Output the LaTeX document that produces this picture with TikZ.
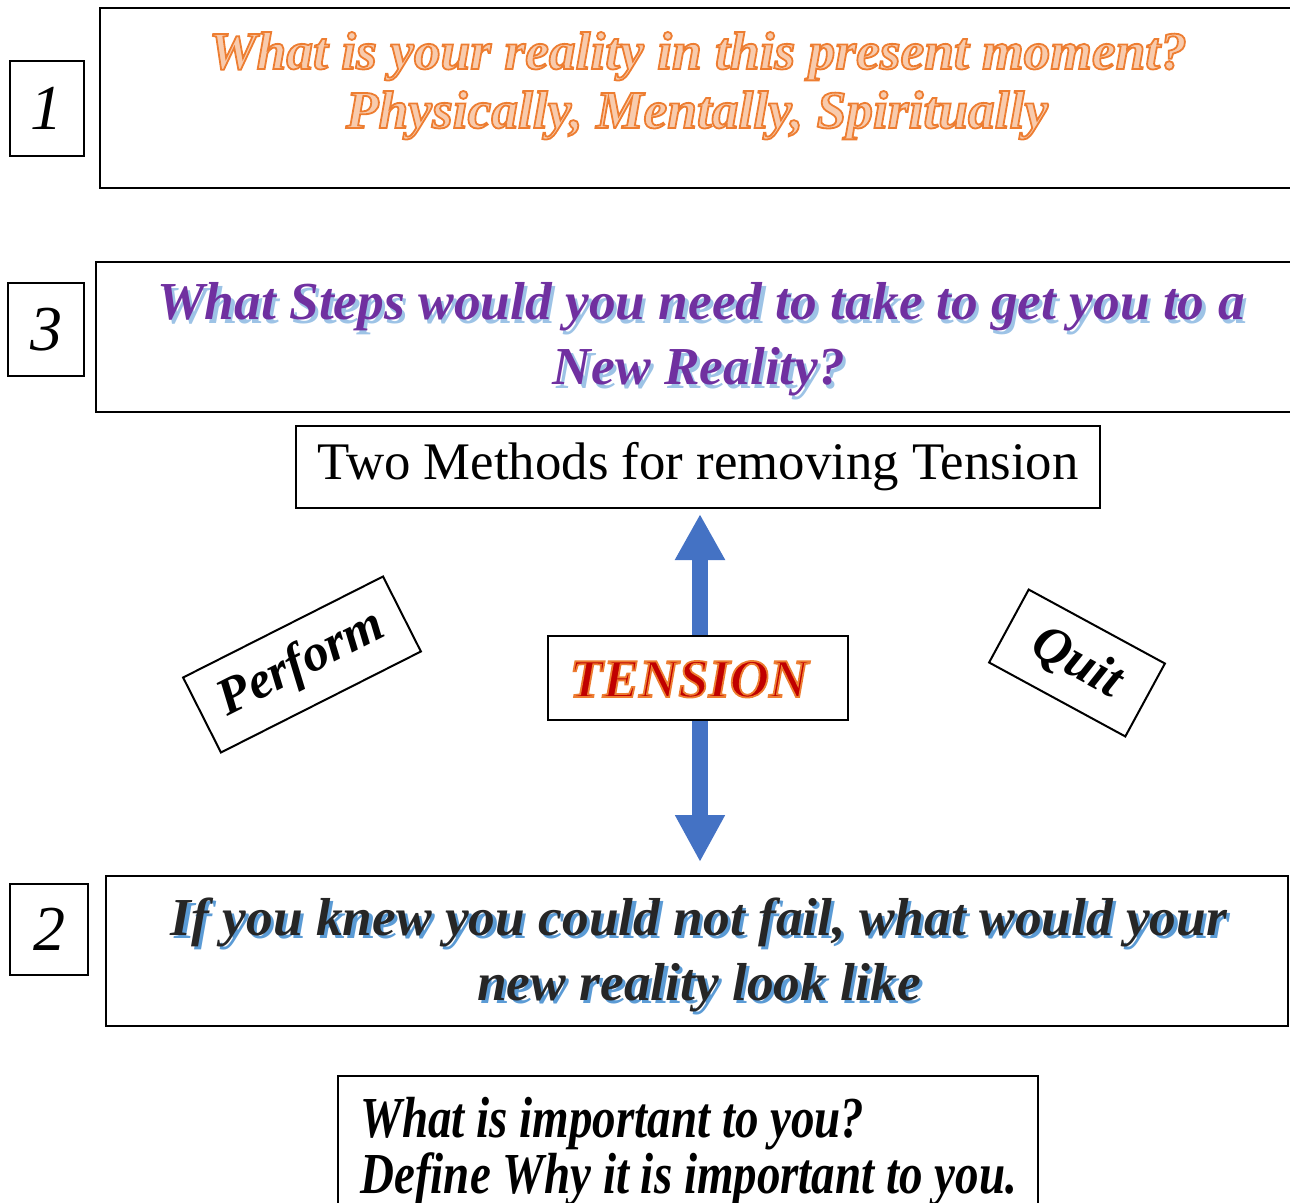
\documentclass[tikz,border=0pt]{standalone}
\usepackage{fontspec}
\setmainfont{Liberation Serif}
\newfontfamily\narrowfont[FakeStretch=0.81]{Liberation Serif}
\usetikzlibrary{arrows.meta}
\definecolor{orangeline}{HTML}{ED7D31}
\definecolor{orangefill}{HTML}{F8CBAD}
\definecolor{stepspurple}{HTML}{7030A0}
\definecolor{stepsshadow}{HTML}{9DC3E6}
\definecolor{failshadow}{HTML}{5B9BD5}
\definecolor{failtext}{HTML}{262626}
\definecolor{tensionred}{HTML}{C00000}
\definecolor{arrowblue}{HTML}{4472C4}
% filled text with an orange outline
\newcommand\outlined[2]{{\color{#1}\special{pdf:literal direct 2 Tr 0.9 w 0.929 0.490 0.192 RG}#2\special{pdf:literal direct 0 Tr}}}
% text with a shadow to the lower right
\newcommand\shadowed[3]{\rlap{\kern1.6pt\raisebox{-1.6pt}{\color{#1}#3}}{\color{#2}#3}}
\tikzset{
  framebox/.style={draw, line width=1pt, inner sep=0pt},
  numbox/.style={framebox, font=\itshape\fontsize{32}{32}\selectfont},
  textline/.style={anchor=base, inner sep=0pt, font=\bfseries\itshape\fontsize{26.7}{30}\selectfont},
  tiltbox/.style={framebox, font=\bfseries\itshape\fontsize{26}{26}\selectfont},
  tensionarrow/.style={arrowblue, line width=8pt,
    {Triangle[width=23.5pt,length=23pt]}-{Triangle[width=23.5pt,length=23.5pt]}}
}
\begin{document}
\begin{tikzpicture}[x=0.5pt,y=-0.5pt]
\useasboundingbox (0,0) rectangle (1290,1203);
% frames
\node[framebox, minimum width=600pt, minimum height=90pt] (reality1) at (700,98) {};
\node[framebox, minimum width=602pt, minimum height=75pt] (steps3) at (698,337) {};
\node[framebox, minimum width=591pt, minimum height=75pt] (reality2) at (697,951) {};
\node[framebox, minimum width=350pt, minimum height=69.5pt] (important) at (688,1145.5) {};
\node[numbox, minimum width=37pt, minimum height=47.5pt] (num1) at (47,108.5) {1};
\node[numbox, minimum width=38pt, minimum height=46.5pt] (num3) at (46,329.5) {3};
\node[numbox, minimum width=39pt, minimum height=45.5pt] (num2) at (49,929.5) {2};
\node[framebox, minimum width=402pt, minimum height=41pt, font=\fontsize{26.4}{27}\selectfont] (methods) at (698,467) {Two Methods for removing Tension};
% texts
\node[textline] (reality1a) at (698,69) {\outlined{orangefill}{What is your reality in this present moment?}};
\node[textline] (reality1b) at (697,128) {\outlined{orangefill}{Physically, Mentally, Spiritually}};
\node[textline] (steps3a) at (701,320) {\shadowed{stepsshadow}{stepspurple}{What Steps would you need to take to get you to a}};
\node[textline] (steps3b) at (699,385) {\shadowed{stepsshadow}{stepspurple}{New Reality?}};
\node[textline] (reality2a) at (699,935) {\shadowed{failshadow}{failtext}{If you knew you could not fail, what would your}};
\node[textline] (reality2b) at (699,1000) {\shadowed{failshadow}{failtext}{new reality look like}};
\node[textline, anchor=base west, font=\narrowfont\bfseries\itshape\fontsize{29}{30}\selectfont] (importanta) at (360,1137) {What is important to you?};
\node[textline, anchor=base west, font=\narrowfont\bfseries\itshape\fontsize{29}{30}\selectfont] (importantb) at (360,1193) {Define Why it is important to you.};
% tension
\draw[tensionarrow, shorten <=2.5pt, shorten >=6.5pt] ([xshift=1pt]methods.south) -- ([xshift=1pt]methods.south |- reality2.north);
\node[framebox, fill=white, minimum width=150pt, minimum height=42pt] (tension) at (698,678) {};
\node[textline, font=\bfseries\itshape\fontsize{27.2}{27}\selectfont] (tensiontext) at (689,697) {\outlined{tensionred}{TENSION}};
\node[tiltbox, rotate=26.8, minimum width=112pt, minimum height=42pt] (perform) at (302,664.5) {Perform};
\node[tiltbox, rotate=-28.5, minimum width=77.5pt, minimum height=41.5pt] (quit) at (1077,663) {Quit};
\end{tikzpicture}
\end{document}
